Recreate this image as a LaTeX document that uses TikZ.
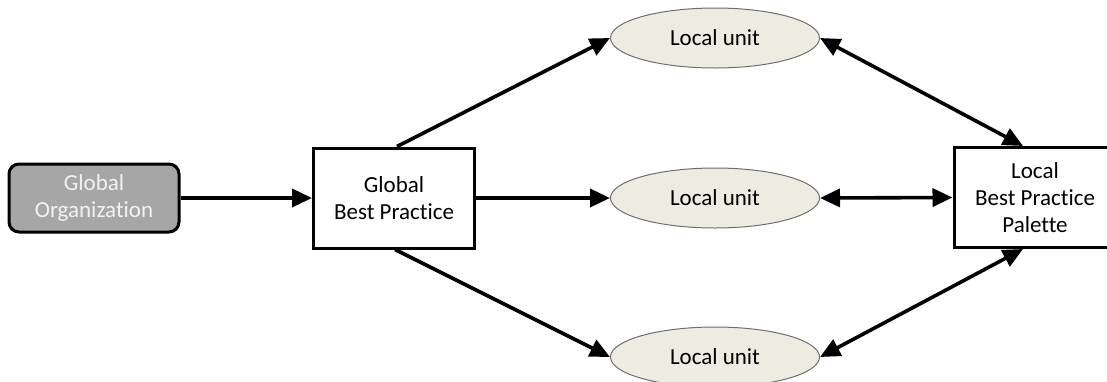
\documentclass[tikz,border=0pt]{standalone}
\usepackage{fontspec}
\setmainfont[Ligatures=NoCommon]{Carlito}
\usetikzlibrary{arrows.meta,shapes.geometric}
\definecolor{orgfill}{HTML}{A6A6A6}
\definecolor{orgtext}{HTML}{F2F2F2}
\definecolor{unitfill}{HTML}{EEECE1}
\definecolor{unitline}{HTML}{6E6E6E}
\begin{document}
\begin{tikzpicture}[x=1pt,y=-1pt,
  >={Triangle[length=20pt,width=18pt]},
  label/.style={font=\fontsize{23}{27}\selectfont, align=center, inner sep=0pt},
  orgbox/.style={label, draw=black, line width=3pt, fill=orgfill, text=orgtext,
    rounded corners=10pt, minimum width=170pt, minimum height=68pt},
  practicebox/.style={label, draw=black, line width=3pt, fill=white,
    minimum width=161pt, minimum height=100pt},
  unit/.style={label, ellipse, draw=unitline, line width=1pt, fill=unitfill,
    minimum width=209pt, minimum height=60pt},
  link/.style={line width=3.6pt, ->},
  twoway/.style={line width=3.6pt, <->}]
  \clip (0,0) rectangle (1107,381);
  % nodes
  \node[orgbox] (org) at (94,198) {Global\\Organization};
  \node[practicebox] (gbp) at (394,198) {Global\\Best Practice};
  \node[unit] (u1) at (715,38) {Local unit};
  \node[unit] (u2) at (715,198) {Local unit};
  \node[unit] (u3) at (715,357) {Local unit};
  \node[practicebox, minimum width=162pt] (lbp) at (1035,197.5) {Local\\Best Practice\\Palette};
  % one-way links from the global side
  \draw[link] (org.east) -- (gbp.west);
  \draw[link] ([xshift=3pt]gbp.north) -- (u1.west);
  \draw[link] (gbp.east) -- (u2.west);
  \draw[link] ([xshift=1pt]gbp.south) -- (u3.west);
  % two-way links to the local palette
  \draw[twoway] (u1.east) -- ([xshift=-12pt]lbp.north);
  \draw[twoway] (u2.east) -- (lbp.west);
  \draw[twoway] (u3.east) -- ([xshift=-12pt]lbp.south);
\end{tikzpicture}
\end{document}
